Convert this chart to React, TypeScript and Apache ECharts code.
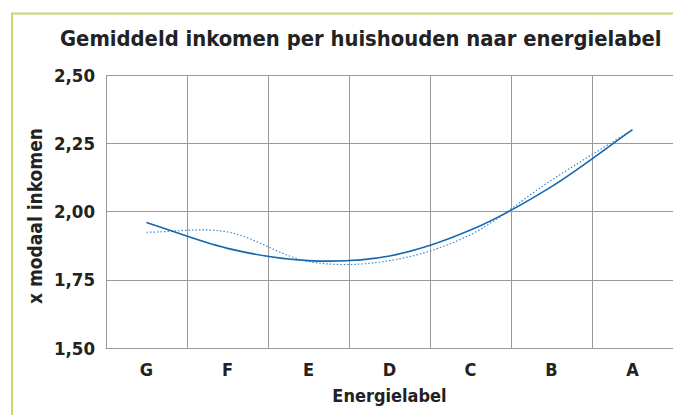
import React, { useEffect, useRef } from "react";
import * as echarts from "echarts";

const categories = ["G", "F", "E", "D", "C", "B", "A"];
const trendValues = [1.96, 1.865, 1.82, 1.837, 1.932, 2.091, 2.3];
const actualValues = [1.924, 1.925, 1.817, 1.82, 1.915, 2.115, 2.3];
const yTicks = { min: 1.5, max: 2.5, interval: 0.25 };

const FONT = "DejaVu Sans Condensed";
const TEXT = "#222222";

function splinePath(pts: number[][]): string {
  const n = pts.length;
  const get = (i: number) => {
    if (i < 0) return [2 * pts[0][0] - pts[1][0], 2 * pts[0][1] - pts[1][1]];
    if (i >= n) return [2 * pts[n - 1][0] - pts[n - 2][0], 2 * pts[n - 1][1] - pts[n - 2][1]];
    return pts[i];
  };
  let d = `M${pts[0][0]},${pts[0][1]}`;
  for (let i = 0; i < n - 1; i++) {
    const p0 = get(i - 1);
    const p1 = get(i);
    const p2 = get(i + 1);
    const p3 = get(i + 2);
    const c1 = [p1[0] + (p2[0] - p0[0]) / 6, p1[1] + (p2[1] - p0[1]) / 6];
    const c2 = [p2[0] - (p3[0] - p1[0]) / 6, p2[1] - (p3[1] - p1[1]) / 6];
    d += ` C${c1[0]},${c1[1]} ${c2[0]},${c2[1]} ${p2[0]},${p2[1]}`;
  }
  return d;
}

function curveSeries(values: number[], style: any, z: number) {
  return {
    type: "custom",
    data: values.map((v, i) => [i, v]),
    encode: { x: 0, y: 1 },
    z,
    silent: true,
    renderItem: (params: any, api: any) => {
      if (params.dataIndex !== 0) return null;
      const pts = values.map((v, i) => api.coord([i, v]));
      return {
        type: "path",
        shape: { pathData: splinePath(pts) },
        style: { fill: "none", ...style },
      };
    },
  };
}

export default function App() {
  const ref = useRef<HTMLDivElement>(null);
  useEffect(() => {
    document.body.style.margin = "0";
    const chart = echarts.init(ref.current!, null, { renderer: "svg" });
    chart.setOption({
      animation: false,
      backgroundColor: "#ffffff",
      title: {
        text: "Gemiddeld inkomen per huishouden naar energielabel",
        left: 55,
        top: 22,
        textStyle: { fontFamily: FONT, fontWeight: "bold", fontSize: 21.8, color: TEXT },
      },
      graphic: [
        {
          type: "rect",
          shape: { x: 12, y: 13.5, width: 720, height: 520 },
          style: { fill: "none", stroke: "#c6d86c", lineWidth: 2 },
          silent: true,
        },
        {
          type: "text",
          x: 35,
          y: 216,
          rotation: Math.PI / 2,
          silent: true,
          style: {
            text: "x modaal inkomen",
            align: "center",
            verticalAlign: "middle",
            fontFamily: FONT,
            fontWeight: "bold",
            fontSize: 19,
            fill: TEXT,
          },
        },
      ],
      grid: { left: 106, top: 75, right: -1, bottom: 67 },
      xAxis: {
        type: "category",
        data: categories,
        boundaryGap: true,
        name: "Energielabel",
        nameLocation: "middle",
        nameGap: 38,
        nameTextStyle: { fontFamily: FONT, fontWeight: "bold", fontSize: 18, color: TEXT },
        axisLine: { show: true, lineStyle: { color: "#999999", width: 1 } },
        axisTick: { show: false },
        axisLabel: { margin: 12, fontFamily: FONT, fontWeight: "bold", fontSize: 18, color: TEXT },
        splitLine: { show: true, showMinLine: true, showMaxLine: true, lineStyle: { color: "#999999", width: 1 } },
      },
      yAxis: {
        type: "value",
        min: yTicks.min,
        max: yTicks.max,
        interval: yTicks.interval,
        axisLine: { show: false },
        axisTick: { show: false },
        axisLabel: {
          margin: 11,
          fontFamily: FONT,
          fontWeight: "bold",
          fontSize: 18.5,
          color: TEXT,
          formatter: (v: number) => v.toFixed(2).replace(".", ","),
        },
        splitLine: { show: true, lineStyle: { color: "#999999", width: 1 } },
      },
      series: [
        curveSeries(actualValues, { stroke: "#3d86c8", lineWidth: 1.2, lineDash: [1.5, 2] }, 2),
        curveSeries(trendValues, { stroke: "#1466b0", lineWidth: 1.6 }, 3),
      ],
    });
    return () => chart.dispose();
  }, []);
  return <div ref={ref} style={{ width: 673, height: 415 }} />;
}
